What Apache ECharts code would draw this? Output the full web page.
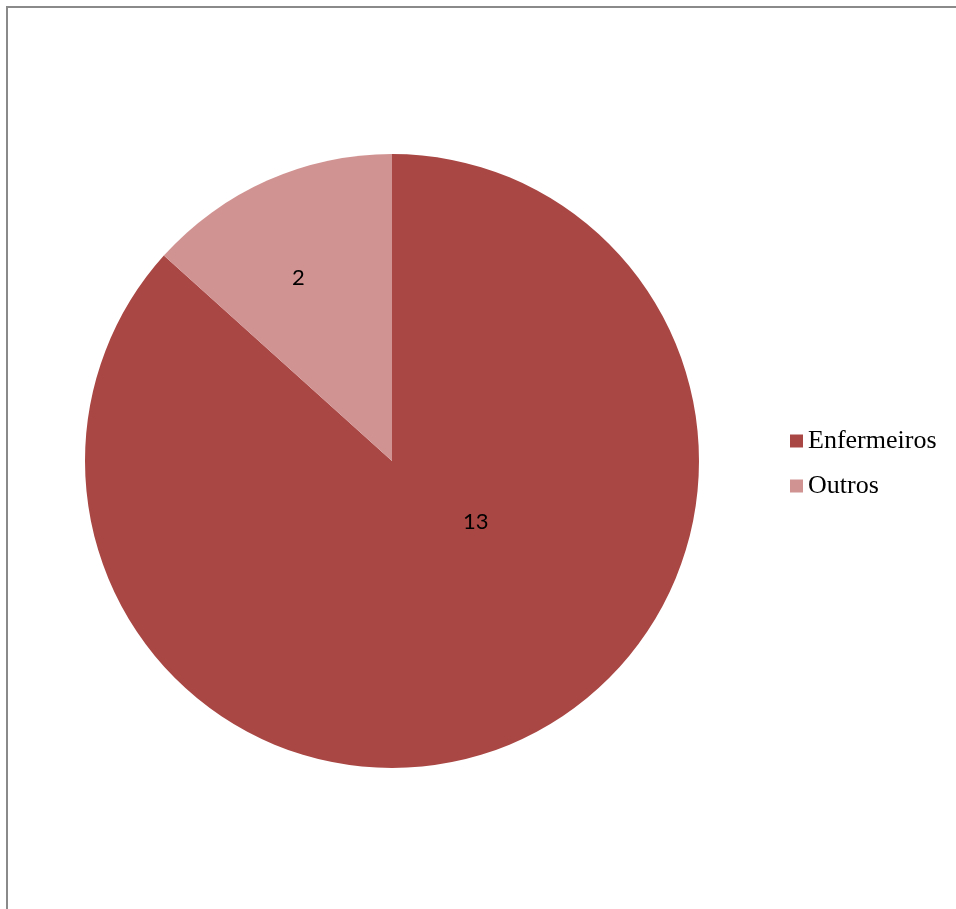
<!DOCTYPE html>
<html>
<head>
<meta charset="utf-8">
<script src="https://cdn.jsdelivr.net/npm/echarts@6/dist/echarts.min.js"></script>
<style>
  html, body { margin: 0; padding: 0; background: #ffffff; }
  #chart { width: 956px; height: 909px; }
</style>
</head>
<body>
<div id="chart"></div>
<script>
// Staff categories and counts
const categories = ['Enfermeiros', 'Outros'];
const counts = [13, 2];
const sliceColors = ['#A94744', '#D19392'];

// Label nudges from the default inside position, per slice
const labelOffsets = [[20, -82], [-30, -40]];

const chart = echarts.init(document.getElementById('chart'));

chart.setOption({
  backgroundColor: '#ffffff',
  animation: false,
  graphic: [{
    type: 'rect',
    shape: { x: 7, y: 7, width: 1000, height: 1000 },
    style: { fill: 'none', stroke: '#8a8a8a', lineWidth: 2 },
    silent: true
  }],
  legend: {
    orient: 'vertical',
    left: 790,
    top: 428,
    padding: 0,
    itemWidth: 13,
    itemHeight: 13,
    itemGap: 19,
    icon: 'rect',
    data: categories,
    textStyle: {
      fontFamily: 'Liberation Serif',
      fontSize: 26,
      lineHeight: 26,
      color: '#000000'
    }
  },
  series: [{
    type: 'pie',
    center: [392, 461],
    radius: 307,
    startAngle: 90,
    clockwise: true,
    avoidLabelOverlap: false,
    itemStyle: { borderWidth: 0 },
    emphasis: { disabled: true },
    label: {
      show: true,
      position: 'inside',
      formatter: '{c}',
      fontFamily: 'Lato',
      fontSize: 22,
      color: '#000000'
    },
    labelLine: { show: false },
    data: categories.map((name, i) => ({
      name: name,
      value: counts[i],
      itemStyle: { color: sliceColors[i] },
      label: { offset: labelOffsets[i] }
    }))
  }]
});
</script>
</body>
</html>
